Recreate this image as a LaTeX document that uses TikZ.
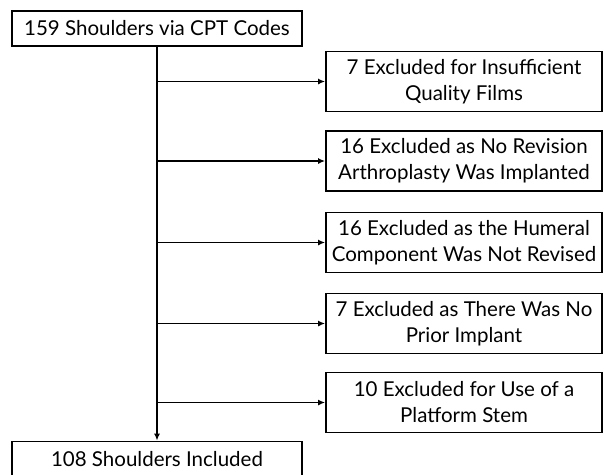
\documentclass[tikz,border=0pt]{standalone}
\usepackage{fontspec}
\setmainfont{Lato}
\usetikzlibrary{arrows.meta}
\begin{document}
\begin{tikzpicture}[x=1pt,y=-1pt,
  box/.style={draw,line width=1.8pt,inner sep=0pt,align=center,
    font=\fontsize{20.5}{26}\selectfont},
  mainbox/.style={box,minimum width=290pt,minimum height=35pt},
  exbox/.style={box,minimum width=276pt,minimum height=60pt},
  flow/.style={line width=1.6pt,-{Latex[length=7pt,width=6pt]}}]
\useasboundingbox (0,0) rectangle (604,474);

\coordinate (S) at (157,28.5); % start count
\coordinate (F) at (157,459); % final count
\coordinate (E1) at (464,81.5); % insufficient films
\coordinate (E2) at (464,161); % no revision
\coordinate (E3) at (464,242.5); % humeral not revised
\coordinate (E4) at (464,323.5); % no prior implant
\coordinate (E5) at (464,402.5); % platform stem

%start and end boxes
\node[mainbox] (start) at (S) {159 Shoulders via CPT Codes};
\node[mainbox] (final) at (F) {108 Shoulders Included};

%exclusion boxes
\node[exbox] (ex1) at (E1) {7 Excluded for Insufficient\\Quality Films};
\node[exbox] (ex2) at (E2) {16 Excluded as No Revision\\Arthroplasty Was Implanted};
\node[exbox] (ex3) at (E3) {16 Excluded as the Humeral\\Component Was Not Revised};
\node[exbox] (ex4) at (E4) {7 Excluded as There Was No\\Prior Implant};
\node[exbox] (ex5) at (E5) {10 Excluded for Use of a\\Platform Stem};

%main trunk
\draw[flow] (start) -- (final);

%branches to the exclusions
\foreach \i in {1,...,5}
  \draw[flow] (start.south |- ex\i.west) -- (ex\i.west);
\end{tikzpicture}
\end{document}
